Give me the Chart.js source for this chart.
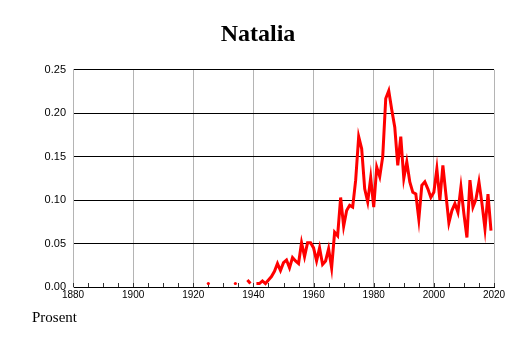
<!DOCTYPE html>
<html>
<head>
<meta charset="utf-8">
<script src="https://cdn.jsdelivr.net/npm/chart.js@4/dist/chart.umd.min.js"></script>
<style>
html,body{margin:0;padding:0;background:#fff;}
#wrap{width:514px;height:343px;}
</style>
</head>
<body>
<div id="wrap"><canvas id="c" width="514" height="343"></canvas></div>
<script>
const chartTitle = 'Natalia';
const unitLabel = 'Prosent';

const years = [
  1925,1926,1927,1928,1929,1930,1931,1932,1933,1934,
  1935,1936,1937,1938,1939,1940,1941,1942,1943,1944,
  1945,1946,1947,1948,1949,1950,1951,1952,1953,1954,
  1955,1956,1957,1958,1959,1960,1961,1962,1963,1964,
  1965,1966,1967,1968,1969,1970,1971,1972,1973,1974,
  1975,1976,1977,1978,1979,1980,1981,1982,1983,1984,
  1985,1986,1987,1988,1989,1990,1991,1992,1993,1994,
  1995,1996,1997,1998,1999,2000,2001,2002,2003,2004,
  2005,2006,2007,2008,2009,2010,2011,2012,2013,2014,
  2015,2016,2017,2018,2019
];

const shares = [
  0.004,null,null,null,null,null,null,null,null,0.004,
  null,null,null,0.008,0.004,null,0.004,0.004,0.007,0.004,
  0.008,0.012,0.018,0.027,0.019,0.028,0.031,0.022,0.034,0.030,
  0.027,0.051,0.035,0.051,0.051,0.045,0.030,0.045,0.026,0.030,
  0.044,0.022,0.063,0.059,0.103,0.070,0.088,0.094,0.092,0.123,
  0.173,0.159,0.113,0.098,0.126,0.092,0.138,0.127,0.150,0.217,
  0.226,0.204,0.184,0.140,0.173,0.125,0.144,0.121,0.109,0.107,
  0.078,0.117,0.121,0.113,0.103,0.109,0.136,0.100,0.140,0.107,
  0.074,0.088,0.096,0.086,0.115,0.084,0.057,0.123,0.092,0.101,
  0.121,0.096,0.067,0.107,0.065
];

const xTicks = [1880,1900,1920,1940,1960,1980,2000,2020];
const yTicks = [0,0.05,0.10,0.15,0.20,0.25];
const minorStep = 5;

const points = years.map((yr, i) => ({x: yr, y: shares[i]}));

const minorTicks = {
  id: 'minorTicks',
  beforeDatasetsDraw(chart) {
    const xs = chart.scales.x;
    const ctx = chart.ctx;
    const b = chart.chartArea.bottom;
    ctx.save();
    ctx.strokeStyle = '#333';
    ctx.lineWidth = 1;
    ctx.beginPath();
    for (let v = xs.min; v <= xs.max; v += minorStep) {
      const px = Math.round(xs.getPixelForValue(v)) + 0.5;
      ctx.moveTo(px, b - 4);
      ctx.lineTo(px, b);
    }
    ctx.stroke();
    ctx.restore();
  }
};

const unitText = {
  id: 'unitText',
  afterDraw(chart) {
    const ctx = chart.ctx;
    ctx.save();
    ctx.font = '15px "Liberation Serif", "DejaVu Serif", serif';
    ctx.fillStyle = '#000';
    ctx.textAlign = 'left';
    ctx.textBaseline = 'alphabetic';
    ctx.fillText(unitLabel, chart.chartArea.left - 41, 322);
    ctx.restore();
  }
};

new Chart(document.getElementById('c'), {
  type: 'line',
  data: {
    datasets: [{
      data: points,
      borderColor: '#ff0000',
      backgroundColor: '#ff0000',
      borderWidth: 3,
      tension: 0,
      spanGaps: false,
      fill: false,
      pointBorderWidth: 0,
      pointHoverRadius: 0,
      pointRadius: (c) => {
        const i = c.dataIndex;
        if (shares[i] == null) return 0;
        const prev = i > 0 ? shares[i - 1] : null;
        const next = i < shares.length - 1 ? shares[i + 1] : null;
        return (prev == null && next == null) ? 1.6 : 0;
      }
    }]
  },
  options: {
    responsive: false,
    animation: false,
    events: [],
    layout: { padding: { left: 22, right: 20, top: 0, bottom: 40 } },
    plugins: {
      legend: { display: false },
      tooltip: { enabled: false },
      title: {
        display: true,
        text: chartTitle,
        color: '#000',
        font: { family: '"Liberation Serif", "DejaVu Serif", serif', size: 24, weight: 'bold', lineHeight: 1.2 },
        padding: { top: 20, bottom: 21 }
      }
    },
    scales: {
      x: {
        type: 'linear',
        min: 1880,
        max: 2020,
        afterBuildTicks: (s) => { s.ticks = xTicks.map(v => ({ value: v })); },
        ticks: {
          color: '#000',
          font: { family: '"Liberation Sans", Arial, sans-serif', size: 10, lineHeight: 1.2 },
          padding: 2,
          maxRotation: 0,
          autoSkip: false,
          callback: (v) => String(v)
        },
        grid: { color: '#b4b4b4', lineWidth: 1, drawTicks: false },
        border: { color: '#000', width: 1 }
      },
      y: {
        min: 0,
        max: 0.25,
        afterBuildTicks: (s) => { s.ticks = yTicks.map(v => ({ value: v })); },
        afterFit: (s) => { s.width = 51; },
        ticks: {
          color: '#000',
          font: { family: '"Liberation Sans", Arial, sans-serif', size: 11 },
          padding: 7,
          autoSkip: false,
          callback: (v) => Number(v).toFixed(2)
        },
        grid: { color: '#000', lineWidth: 1, drawTicks: false },
        border: { color: '#b4b4b4', width: 1 }
      }
    }
  },
  plugins: [minorTicks, unitText]
});
</script>
</body>
</html>
